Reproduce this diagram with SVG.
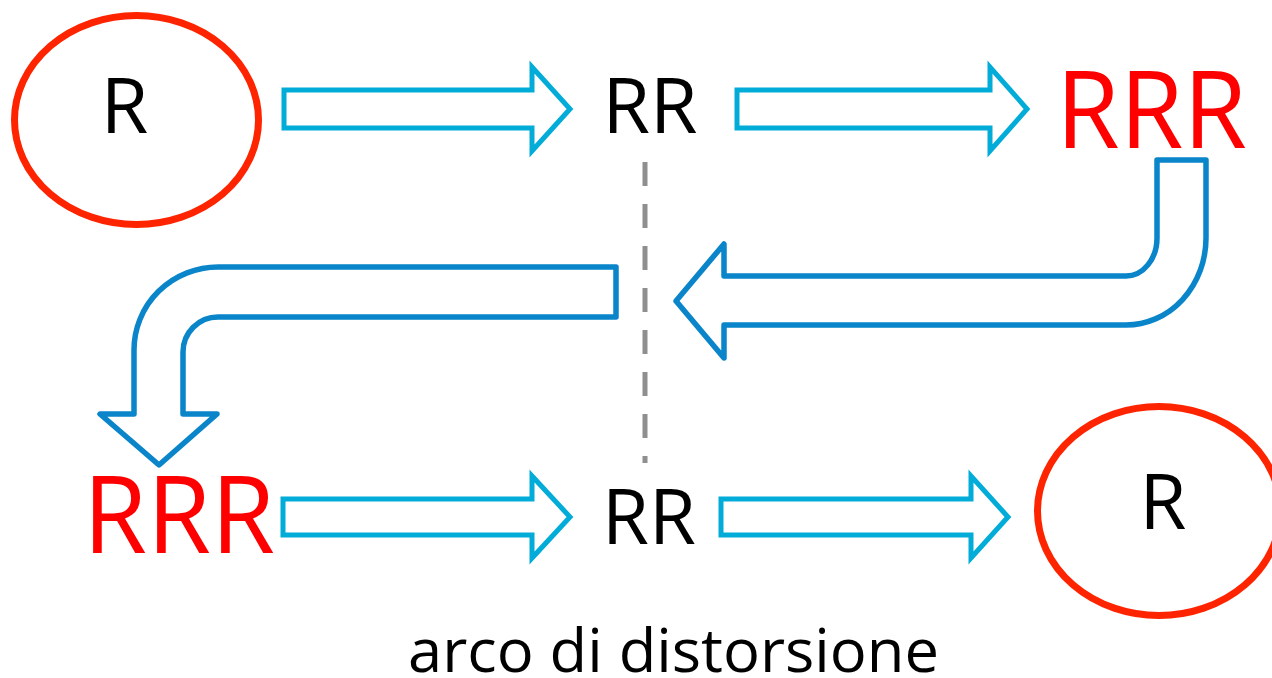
<svg xmlns="http://www.w3.org/2000/svg" width="1272" height="678" viewBox="0 0 1272 678">
  <style>
    .ring { fill: none; stroke: #FF2400; stroke-width: 7; }
    .lbl { font-family: "Open Sans", "Noto Sans", sans-serif; fill: #000000; }
    .big { font-family: "Open Sans", "Noto Sans", sans-serif; fill: #FF0000; }
    .flow { fill: #FFFFFF; stroke: #02ACD8; stroke-width: 5; stroke-linejoin: miter; }
    .turn { fill: #FFFFFF; stroke: #0A85CA; stroke-width: 5.5; stroke-linejoin: round; }
    .cut { stroke: #8F8F8F; stroke-width: 5; stroke-dasharray: 24 18; fill: none; }
  </style>

  <!-- cut line through the middle -->
  <line class="cut" x1="645" y1="162" x2="645" y2="463"/>

  <!-- connectors -->
  <g id="connectors">
    <path class="flow" d="M284,90 H532 V67 L570,109 L532,151 V128 H284 Z"/>
    <path class="flow" d="M737,90 H990 V67 L1027,109 L990,151 V128 H737 Z"/>
    <path class="turn" d="M1157,160 H1206 V238 A80,87 0 0 1 1126,325 H724 V358 L676,301 L724,244 V276 H1126 A31,38 0 0 0 1157,238 Z"/>
    <path class="turn" d="M616,267 V317 H218 A35,35 0 0 0 183,352 V414 H217 L159,465 L100,414 H134 V350 A84,83 0 0 1 218,267 Z"/>
    <path class="flow" d="M283,499 H532 V476 L570,517 L532,558 V535 H283 Z"/>
    <path class="flow" d="M721,499 H971 V476 L1008,517 L971,558 V535 H721 Z"/>
  </g>

  <!-- top row -->
  <g id="start">
    <ellipse class="ring" cx="136.5" cy="120" rx="122" ry="104.5"/>
    <text class="lbl" x="124.5" y="133" font-size="77" text-anchor="middle">R</text>
  </g>
  <g id="rr-top">
    <text class="lbl" x="650" y="133" font-size="77" text-anchor="middle">RR</text>
  </g>
  <g id="rrr-top">
    <text class="big" x="1056" y="148" font-size="108" textLength="191" lengthAdjust="spacingAndGlyphs">RRR</text>
  </g>

  <!-- bottom row -->
  <g id="rrr-bottom">
    <text class="big" x="83" y="553" font-size="108" textLength="192" lengthAdjust="spacingAndGlyphs">RRR</text>
  </g>
  <g id="rr-bottom">
    <text class="lbl" x="649" y="544" font-size="76" text-anchor="middle">RR</text>
  </g>
  <g id="end">
    <ellipse class="ring" cx="1159" cy="511" rx="121.5" ry="104.5"/>
    <text class="lbl" x="1163" y="529" font-size="76" text-anchor="middle">R</text>
  </g>

  <!-- caption -->
  <g id="caption">
    <text class="lbl" x="408" y="672" font-size="60" textLength="531" lengthAdjust="spacingAndGlyphs">arco di distorsione</text>
  </g>
</svg>
